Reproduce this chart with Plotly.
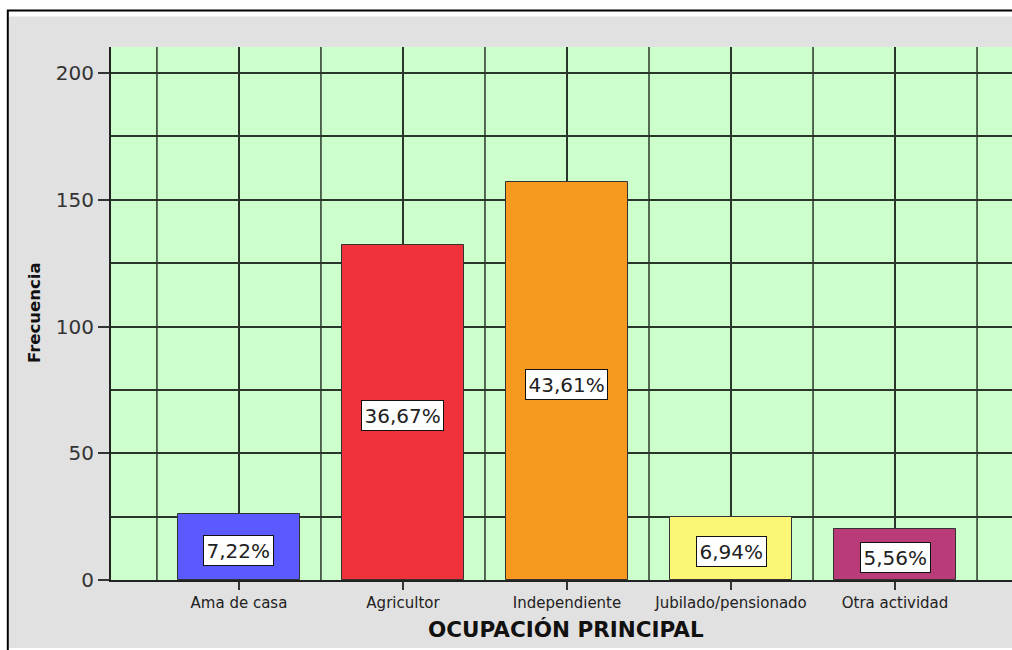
import plotly.graph_objects as go

categories = ["Ama de casa", "Agricultor", "Independiente", "Jubilado/pensionado", "Otra actividad"]
counts = [26, 132, 157, 25, 20]
bar_colors = ["#5a5aff", "#f0323a", "#f7991e", "#fbf675", "#b93c78"]
y_tick_vals = [0, 50, 100, 150, 200]

total = sum(counts)
pct_labels = [f"{c / total * 100:.2f}%".replace(".", ",") for c in counts]

OFF = 0
W, H = 1012, 650
ML, MR, MT = 111, 0, 47
MB = H - 580
PW, PH = W - ML - MR, H - MT - MB


def px(x):
    """page x -> paper x"""
    return (x - OFF - ML) / PW


def py(y):
    """page y -> paper y"""
    return (H - MB - (y - OFF)) / PH


FONT = "DejaVu Sans, Verdana, Arial"
GRID = "#2b362b"

fig = go.Figure()
fig.add_trace(go.Bar(
    x=categories, y=counts,
    marker=dict(color=bar_colors, line=dict(color="#333333", width=1)),
    width=0.744,
    hoverinfo="x+y",
))

annotations = []
for cat, c, lab in zip(categories, counts, pct_labels):
    annotations.append(dict(
        x=cat, y=c / 2, text=lab, showarrow=False, yshift=-3,
        font=dict(family=FONT, size=20, color="#222222"),
        bgcolor="white", bordercolor="#111111", borderwidth=1, borderpad=2.5,
    ))
annotations.append(dict(
    text="<b>OCUPACIÓN PRINCIPAL</b>", xref="paper", yref="paper",
    x=px(566), y=py(629), xanchor="center", yanchor="middle", showarrow=False,
    font=dict(family=FONT, size=21.5, color="#111111"),
))
annotations.append(dict(
    text="<b>Frecuencia</b>", xref="paper", yref="paper", textangle=-90,
    x=px(34), y=py(313), xanchor="center", yanchor="middle", showarrow=False,
    font=dict(family=FONT, size=16.5, color="#111111"),
))

shapes = []
# grey panel, green plotting area, frame lines
shapes.append(dict(type="rect", xref="paper", yref="paper", x0=px(9), x1=px(1013),
                   y0=py(648), y1=py(16.5), fillcolor="#e1e1e1", line=dict(width=0), layer="below"))
shapes.append(dict(type="rect", xref="paper", yref="paper", x0=0, x1=1,
                   y0=0, y1=1, fillcolor="#ccffcc", line=dict(width=0), layer="below"))
shapes.append(dict(type="line", xref="paper", yref="paper", x0=px(7), x1=px(1013),
                   y0=py(10.5), y1=py(10.5), line=dict(color="black", width=2), layer="below"))
shapes.append(dict(type="line", xref="paper", yref="paper", x0=px(7.8), x1=px(7.8),
                   y0=py(651), y1=py(10), line=dict(color="black", width=2), layer="below"))
# category boundary grid lines
for i in range(len(categories) + 1):
    shapes.append(dict(type="line", xref="x", yref="paper", x0=i - 0.5, x1=i - 0.5,
                       y0=0, y1=1, line=dict(color=GRID, width=1.5), layer="below"))

fig.update_layout(
    width=W, height=H,
    margin=dict(l=ML, r=MR, t=MT, b=MB, autoexpand=False),
    paper_bgcolor="white",
    plot_bgcolor="#ccffcc",
    showlegend=False,
    bargap=0,
    shapes=shapes,
    annotations=annotations,
)

fig.update_xaxes(
    type="category",
    range=[-0.780, 4.713],
    showgrid=True, gridcolor=GRID, gridwidth=1.5,
    showline=True, linecolor="#222222", linewidth=1.5,
    ticks="outside", ticklen=8, tickcolor="#333333", tickwidth=1.5,
    tickfont=dict(family=FONT, size=15, color="#222222"),
)

fig.update_yaxes(
    range=[0, 210.3],
    tickvals=y_tick_vals,
    showgrid=True, gridcolor=GRID, gridwidth=1.5,
    minor=dict(dtick=25, tick0=0, showgrid=True, gridcolor=GRID, gridwidth=1.5, ticks=""),
    zeroline=False,
    showline=True, linecolor="#222222", linewidth=2,
    ticks="outside", ticklen=11, tickcolor="#333333", tickwidth=1.5,
    tickfont=dict(family=FONT, size=20, color="#333333"),
)

fig.write_html("out.html", config={"displayModeBar": False},
               post_script="document.body.style.margin='0';"
                           "document.documentElement.style.overflow='hidden';")
